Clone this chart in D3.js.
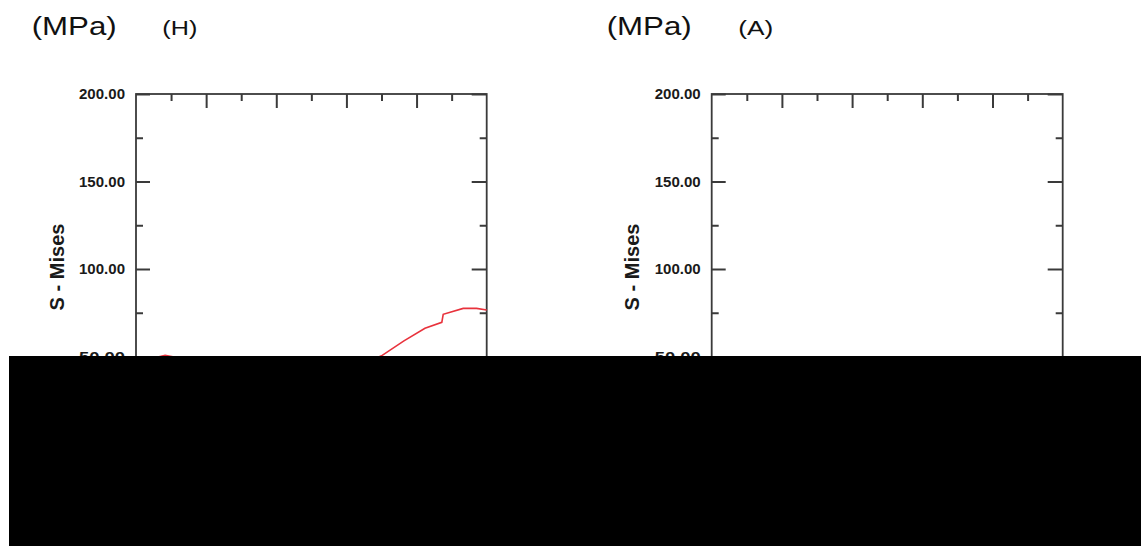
<!DOCTYPE html>
<html>
<head>
<meta charset="utf-8">
<script src="https://cdn.jsdelivr.net/npm/d3@7"></script>
<style>
  html, body { margin: 0; padding: 0; background: #fff; }
  svg { display: block; }
</style>
</head>
<body>
<svg id="chart" width="1141" height="546"></svg>
<script>
// Step time (normalised) and von Mises stress (MPa) for panel H
const stepTime = [0, 0.03, 0.06, 0.083, 0.105, 0.15, 0.3, 0.5, 0.65, 0.70, 0.764, 0.824, 0.872, 0.876, 0.933, 0.971, 1.0];
const misesH   = [38, 46, 49.6, 50.7, 49.8, 47, 42, 40, 46, 50.4, 58.9, 66.1, 69.5, 74.1, 77.5, 77.5, 76.6];

// Axis ticks
const yMajorTicks = [0, 50, 100, 150, 200];
const yMinorTicks = [25, 75, 125, 175];
const xMajorTicks = [0.2, 0.4, 0.6, 0.8];
const xMinorTicks = [0.1, 0.3, 0.5, 0.7, 0.9];

// Panel captions
const panelUnits  = ["(MPa)", "(MPa)"];
const panelNames  = ["(H)", "(A)"];
const yAxisTitle  = "S - Mises";

const svg = d3.select("#chart");
svg.append("rect").attr("width", 1141).attr("height", 546).attr("fill", "#fff");

const axisColor = "#3a3a3a";
const plotTop = 94, plotBottom = 444;

const panels = [
  { left: 136,   right: 486.7,  unitX: 31.7,  nameX: 162.3, titleX: 56,    series: misesH },
  { left: 711.7, right: 1062.7, unitX: 606.7, nameX: 738.3, titleX: 631.5, series: null }
];

const y = d3.scaleLinear().domain([0, 200]).range([plotBottom, plotTop]);

panels.forEach((p, i) => {
  const g = svg.append("g");
  const x = d3.scaleLinear().domain([0, 1]).range([p.left, p.right]);

  // header captions
  g.append("text")
    .attr("x", p.unitX).attr("y", 34.5)
    .attr("font-family", "Liberation Sans, Arial, sans-serif")
    .attr("font-size", 26).attr("fill", "#111")
    .attr("textLength", 85).attr("lengthAdjust", "spacingAndGlyphs")
    .text(panelUnits[i]);
  g.append("text")
    .attr("x", p.nameX).attr("y", 34.5)
    .attr("font-family", "Liberation Sans, Arial, sans-serif")
    .attr("font-size", 21).attr("fill", "#111")
    .attr("textLength", 35).attr("lengthAdjust", "spacingAndGlyphs")
    .text(panelNames[i]);

  // frame
  g.append("rect")
    .attr("x", p.left).attr("y", plotTop)
    .attr("width", p.right - p.left).attr("height", plotBottom - plotTop)
    .attr("fill", "none").attr("stroke", axisColor).attr("stroke-width", 1.8);

  const styleAxis = sel => {
    sel.select(".domain").remove();
    sel.selectAll(".tick line").attr("stroke", axisColor).attr("stroke-width", 2);
    sel.selectAll(".tick text")
      .attr("font-family", "Liberation Sans, Arial, sans-serif")
      .attr("font-weight", "bold").attr("font-size", 15).attr("fill", "#1a1a1a")
      .attr("textLength", 46).attr("lengthAdjust", "spacingAndGlyphs");
  };

  // left axis: labelled major ticks, inward
  g.append("g").attr("transform", `translate(${p.left},0)`)
    .call(d3.axisLeft(y).tickValues(yMajorTicks).tickSize(-14).tickSizeOuter(0)
      .tickPadding(11).tickFormat(d3.format(".2f")))
    .call(styleAxis);
  g.append("g").attr("transform", `translate(${p.left},0)`)
    .call(d3.axisLeft(y).tickValues(yMinorTicks).tickSize(-7).tickSizeOuter(0).tickFormat(""))
    .call(styleAxis);

  // right axis
  g.append("g").attr("transform", `translate(${p.right},0)`)
    .call(d3.axisRight(y).tickValues(yMajorTicks).tickSize(-15).tickSizeOuter(0).tickFormat(""))
    .call(styleAxis);
  g.append("g").attr("transform", `translate(${p.right},0)`)
    .call(d3.axisRight(y).tickValues(yMinorTicks).tickSize(-7).tickSizeOuter(0).tickFormat(""))
    .call(styleAxis);

  // top axis
  g.append("g").attr("transform", `translate(0,${plotTop})`)
    .call(d3.axisTop(x).tickValues(xMajorTicks).tickSize(-14).tickSizeOuter(0).tickFormat(""))
    .call(styleAxis);
  g.append("g").attr("transform", `translate(0,${plotTop})`)
    .call(d3.axisTop(x).tickValues(xMinorTicks).tickSize(-7).tickSizeOuter(0).tickFormat(""))
    .call(styleAxis);

  // axis title
  g.append("text")
    .attr("transform", `translate(${p.titleX},267) rotate(-90)`)
    .attr("text-anchor", "middle").attr("dominant-baseline", "central")
    .attr("font-family", "Liberation Sans, Arial, sans-serif")
    .attr("font-weight", "bold").attr("font-size", 21).attr("fill", "#1a1a1a")
    .attr("textLength", 87).attr("lengthAdjust", "spacingAndGlyphs")
    .text(yAxisTitle);

  // stress curve
  if (p.series) {
    const pts = stepTime.map((t, k) => [t, p.series[k]]);
    g.append("path")
      .datum(pts)
      .attr("fill", "none")
      .attr("stroke", "#e8323c")
      .attr("stroke-width", 1.6)
      .attr("d", d3.line().x(d => x(d[0])).y(d => y(d[1])));
  }
});

// opaque band across the lower part of the figure
svg.append("rect")
  .attr("x", 9).attr("y", 356).attr("width", 1141 - 9).attr("height", 546 - 356)
  .attr("fill", "#000");
</script>
</body>
</html>
